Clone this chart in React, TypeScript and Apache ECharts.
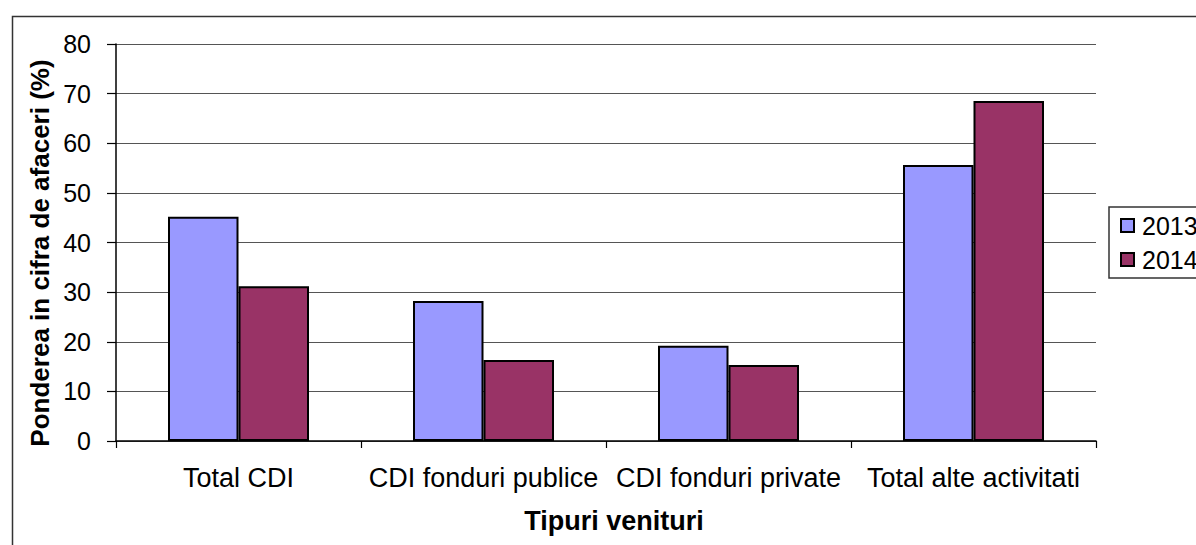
import React, { useEffect, useRef } from "react";
import * as echarts from "echarts";

const categories = ["Total CDI", "CDI fonduri publice", "CDI fonduri private", "Total alte activitati"];
const series2013 = [45.2, 28.2, 19.2, 55.6];
const series2014 = [31.2, 16.3, 15.3, 68.5];
const seriesNames = ["2013", "2014"];
const yTitle = "Ponderea in cifra de afaceri (%)";
const xTitle = "Tipuri venituri";

const FONT = "'Liberation Sans', Arial, sans-serif";

export default function App() {
  const ref = useRef<HTMLDivElement>(null);
  useEffect(() => {
    document.body.style.margin = "0";
    if (!ref.current) return;
    const chart = echarts.init(ref.current, null, { renderer: "svg" });
    const barStyle = (color: string) => ({
      color,
      borderColor: "#000",
      borderWidth: 2,
    });
    chart.setOption({
      animation: false,
      backgroundColor: "#fff",
      textStyle: { fontFamily: FONT },
      grid: { left: 116, top: 44, right: 100, bottom: 104, containLabel: false },
      legend: {
        orient: "vertical",
        left: 1109,
        top: 207,
        padding: [6, 12, 6, 11],
        itemWidth: 13,
        itemHeight: 13,
        itemGap: 9,
        borderColor: "#333",
        borderWidth: 1.5,
        icon: "rect",
        textStyle: { fontFamily: FONT, fontSize: 25, color: "#000", padding: [0, 0, 0, 3] },
        data: seriesNames,
      },
      xAxis: {
        type: "category",
        data: categories,
        axisLine: { lineStyle: { color: "#000", width: 1.5 } },
        axisTick: { show: true, length: 7, lineStyle: { color: "#000", width: 1.2 } },
        axisLabel: { fontFamily: FONT, fontSize: 27, color: "#000", margin: 23, interval: 0 },
      },
      yAxis: {
        type: "value",
        min: 0,
        max: 80,
        interval: 10,
        axisLine: { show: true, lineStyle: { color: "#000", width: 1.5 } },
        axisTick: { show: true, length: 9, lineStyle: { color: "#000", width: 1.2 } },
        axisLabel: { fontFamily: FONT, fontSize: 25, color: "#000", margin: 25 },
        splitLine: { show: true, lineStyle: { color: "#555", width: 1.2 } },
      },
      series: [
        {
          name: seriesNames[0],
          type: "bar",
          data: series2013,
          barWidth: 70.5,
          barGap: "0%",
          itemStyle: barStyle("#9999FF"),
        },
        {
          name: seriesNames[1],
          type: "bar",
          data: series2014,
          barWidth: 70.5,
          barGap: "0%",
          itemStyle: barStyle("#993366"),
        },
      ],
      graphic: [
        {
          type: "rect",
          left: 10,
          top: 14,
          shape: { x: 0, y: 0, width: 1300, height: 700 },
          style: { fill: "none", stroke: "#333", lineWidth: 1.5 },
          silent: true,
          z: -1,
        },
        {
          type: "text",
          x: 40,
          y: 253,
          rotation: Math.PI / 2,
          style: {
            text: yTitle,
            font: `bold 26px ${FONT}`,
            fill: "#000",
            align: "center",
            verticalAlign: "middle",
          },
        },
        {
          type: "text",
          x: 614,
          y: 521,
          style: {
            text: xTitle,
            font: `bold 27px ${FONT}`,
            fill: "#000",
            align: "center",
            verticalAlign: "middle",
          },
        },
      ],
    });
    return () => chart.dispose();
  }, []);
  return <div ref={ref} style={{ width: 1196, height: 545 }} />;
}
